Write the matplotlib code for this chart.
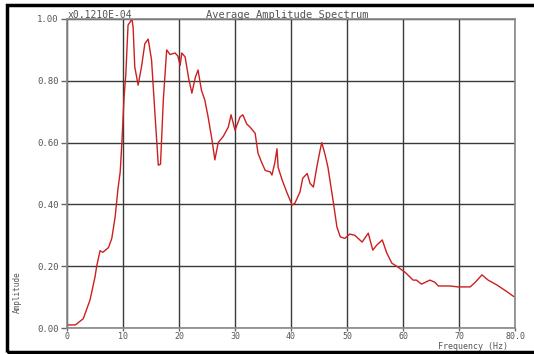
import matplotlib
matplotlib.use("Agg")
import matplotlib.pyplot as plt
from matplotlib.patches import Rectangle

# spectrum (frequency in Hz, amplitude x0.1210E-04)
freq = [0, 1.5, 2.9, 4.1, 5.0, 5.3, 5.9, 6.4, 7.4, 8.0, 8.6, 9.1, 9.5, 9.8,
        10.2, 10.5, 10.9, 11.6, 11.8, 12.1, 12.7, 13.3, 13.9, 14.5, 15.1,
        15.7, 16.3, 16.7, 17.2, 17.8, 18.4, 19.3, 19.8, 20.2, 20.5, 21.1,
        21.7, 22.3, 22.9, 23.4, 24.0, 24.6, 25.2, 25.9, 26.4, 27.0, 27.9,
        28.8, 29.3, 30.0, 30.9, 31.4, 32.1, 32.7, 33.6, 34.1, 34.8, 35.4,
        36.3, 36.6, 37.1, 37.5, 37.7, 38.4, 39.3, 40.2, 40.7, 41.6, 42.1,
        42.9, 43.4, 44.0, 44.6, 45.2, 45.5, 46.1, 46.6, 47.5, 48.2, 48.8,
        49.6, 50.5, 51.4, 52.7, 53.8, 54.6, 55.3, 56.3, 57.1, 58.0, 59.1,
        60.4, 61.8, 62.4, 63.3, 64.8, 65.7, 66.3, 68.4, 69.8, 72.0, 72.9,
        74.1, 75.2, 76.8, 78.6, 79.6, 80.0]
amp = [0.01, 0.01, 0.03, 0.09, 0.165, 0.20, 0.25, 0.245, 0.26, 0.29, 0.36,
       0.45, 0.505, 0.60, 0.75, 0.82, 0.98, 1.00, 0.975, 0.845, 0.786,
       0.845, 0.92, 0.935, 0.867, 0.695, 0.527, 0.53, 0.738, 0.90, 0.885,
       0.89, 0.88, 0.85, 0.89, 0.877, 0.81, 0.76, 0.81, 0.835, 0.77, 0.738,
       0.683, 0.608, 0.544, 0.60, 0.62, 0.65, 0.69, 0.64, 0.683, 0.69, 0.66,
       0.65, 0.63, 0.566, 0.534, 0.51, 0.505, 0.495, 0.534, 0.58, 0.52,
       0.48, 0.437, 0.398, 0.404, 0.44, 0.485, 0.50, 0.468, 0.456, 0.52,
       0.576, 0.60, 0.56, 0.52, 0.414, 0.327, 0.295, 0.29, 0.304, 0.30,
       0.278, 0.307, 0.252, 0.268, 0.285, 0.243, 0.21, 0.197, 0.18, 0.155,
       0.155, 0.142, 0.155, 0.148, 0.136, 0.136, 0.133, 0.133, 0.148,
       0.172, 0.155, 0.139, 0.117, 0.104, 0.10]

xticks = [0, 10, 20, 30, 40, 50, 60, 70, 80]
xtick_labels = ["0", "10", "20", "30", "40", "50", "60", "70", "80.0"]
yticks = [0.0, 0.2, 0.4, 0.6, 0.8, 1.0]
ytick_labels = ["0.00", "0.20", "0.40", "0.60", "0.80", "1.00"]

mono = "DejaVu Sans Mono"
txt = "#555555"

fig = plt.figure(figsize=(5.34, 3.54), dpi=100)
fig.patch.set_facecolor("white")

# thick outer frame, runs off the right edge like the screenshot
fig.patches.append(Rectangle((7 / 534, 2 / 354), 1.2, 347 / 354,
                             transform=fig.transFigure, fill=False,
                             edgecolor="black", linewidth=2.5))

ax = fig.add_axes([67 / 534, 1 - 328 / 354, 448 / 534, 309 / 354])
ax.plot(freq, amp, color="#cc1f1f", linewidth=1.0)

ax.set_xlim(0, 80)
ax.set_ylim(0, 1.0)
ax.set_xticks(xticks)
ax.set_xticklabels(xtick_labels, fontfamily=mono, fontsize=6, color=txt)
ax.set_yticks(yticks)
ax.set_yticklabels(ytick_labels, fontfamily=mono, fontsize=6.5, color=txt)
ax.tick_params(axis="y", length=4, width=1, color="#666666", pad=2)
ax.tick_params(axis="x", length=2, width=1, color="#666666", pad=1)
ax.grid(True, color="#3a3a3a", linewidth=1.0)
for s in ax.spines.values():
    s.set_color("#888888")
    s.set_linewidth(1.2)

fig.text(287 / 534, 1 - 15 / 354, "Average Amplitude Spectrum",
         fontfamily=mono, fontsize=7.5, color=txt, ha="center", va="center")
fig.text(68 / 534, 1 - 15 / 354, "x0.1210E-04", fontfamily=mono,
         fontsize=7, color=txt, ha="left", va="center")
fig.text(473 / 534, 1 - 346.5 / 354, "Frequency (Hz)", fontfamily=mono,
         fontsize=6, color=txt, ha="center", va="center")
fig.text(17 / 534, 1 - 292 / 354, "Amplitude", fontfamily=mono,
         fontsize=5.5, color=txt, ha="center", va="center", rotation=90)

fig.savefig("out.png", dpi=100)
